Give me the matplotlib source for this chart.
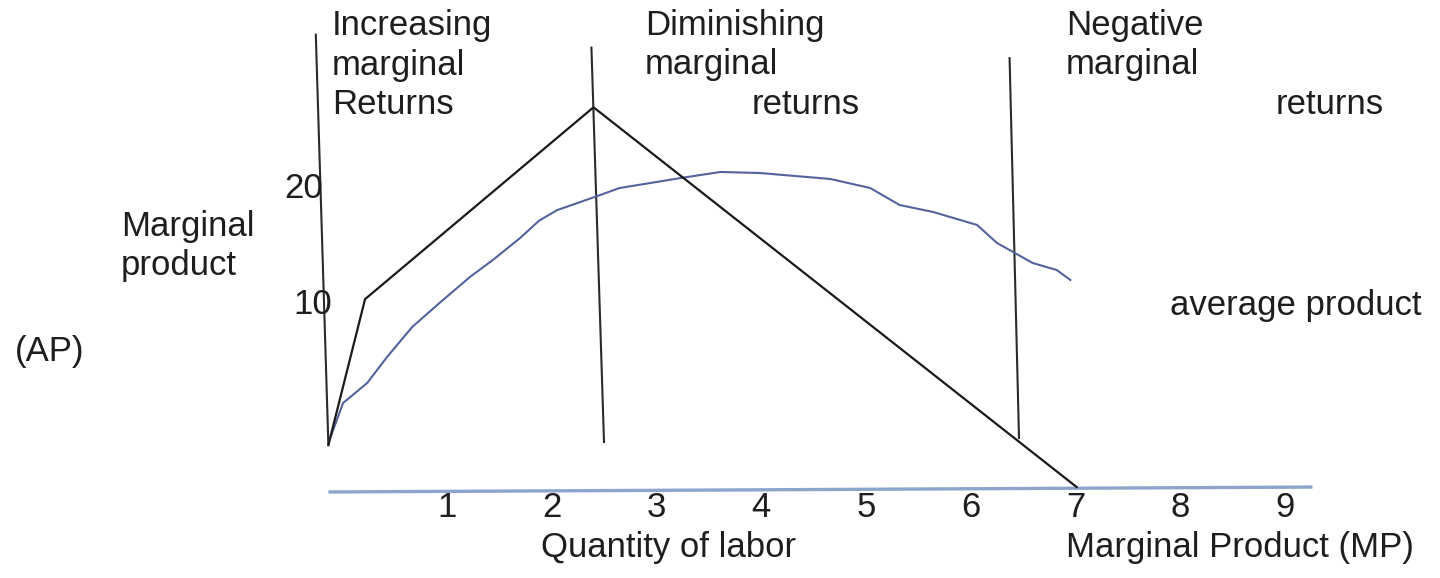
import matplotlib.pyplot as plt

#chart values
labor_ticks = [1, 2, 3, 4, 5, 6, 7, 8, 9]
y_ticks = [10, 20]

#marginal product (black broken line)
mp_x = [-0.13, 0.22, 2.40, 7.01]
mp_y = [-1.97, 10.5, 26.9, -5.56]

#average product (blue hand drawn curve)
ap_x = [-0.13, 0.01, 0.24, 0.43, 0.67, 0.93, 1.22, 1.44, 1.70, 1.88, 2.05, 2.41, 2.65,
        3.23, 3.61, 3.99, 4.66, 5.04, 5.32, 5.64, 6.06, 6.25, 6.37, 6.59, 6.82, 6.95]
ap_y = [-1.79, 1.62, 3.33, 5.56, 8.12, 10.17, 12.39, 13.85, 15.73, 17.2, 18.1, 19.23, 20.0,
        20.85, 21.37, 21.28, 20.77, 20.0, 18.55, 17.95, 16.84, 15.30, 14.70, 13.59, 12.99, 12.14]

#the three hand drawn dividers (x top, x bottom, y top, y bottom)
dividers = [(-0.25, -0.13, 33.1, -1.97),
            (2.38, 2.50, 32.0, -1.71),
            (6.37, 6.46, 31.1, -1.37)]

#quantity of labor axis line
base_x = [-0.13, 9.26]
base_y = [-5.98, -5.56]

#===============
W, H = 1440, 578
plt.rcParams['font.family'] = ['Liberation Sans', 'DejaVu Sans']
fig = plt.figure(figsize=(W / 100, H / 100), dpi=100)
ax = fig.add_axes([0, 0, 1, 1])
ax.set_xlim(-342 / 104.8, (W - 342) / 104.8)
ax.set_ylim((422 - H) / 11.7, 422 / 11.7)
ax.axis('off')

txt = dict(fontsize=25, color='#1e1e1e')

def px(x, y):
    """pixel position of the reference -> figure fraction"""
    return x / W, 1 - y / H

#lines
ax.plot(base_x, base_y, color='#8ba5cb', lw=2.4, solid_capstyle='butt')
for x0, x1, y0, y1 in dividers:
    ax.plot([x0, x1], [y0, y1], color='#2a2a2a', lw=1.5)
ax.plot(ap_x, ap_y, color='#55639c', lw=1.5)
ax.plot(mp_x, mp_y, color='#1a1a1a', lw=1.6)

#axis numbers
for t in labor_ticks:
    ax.text(t, -7.35, str(t), ha='center', va='center', **txt)
ax.text(-0.37, y_ticks[1], str(y_ticks[1]), ha='center', va='center', **txt)
ax.text(-0.28, y_ticks[0], str(y_ticks[0]), ha='center', va='center', **txt)

#annotations
ls = 1.24
fig.text(*px(332, 65), 'Increasing\nmarginal\nReturns', ha='left', va='center', linespacing=ls, **txt)
fig.text(*px(645, 45), 'Diminishing\nmarginal', ha='left', va='center', linespacing=ls, **txt)
fig.text(*px(752, 105), 'returns', ha='left', va='center', **txt)
fig.text(*px(1066, 45), 'Negative\nmarginal', ha='left', va='center', linespacing=ls, **txt)
fig.text(*px(1276, 105), 'returns', ha='left', va='center', **txt)
fig.text(*px(121, 246), 'Marginal\nproduct', ha='left', va='center', linespacing=ls, **txt)
fig.text(*px(15, 352), '(AP)', ha='left', va='center', **txt)
fig.text(*px(1170, 305), 'average product', ha='left', va='center', **txt)
fig.text(*px(541, 548), 'Quantity of labor', ha='left', va='center', **txt)
fig.text(*px(1066, 548), 'Marginal Product (MP)', ha='left', va='center', **txt)

fig.savefig('out.png', dpi=100)
